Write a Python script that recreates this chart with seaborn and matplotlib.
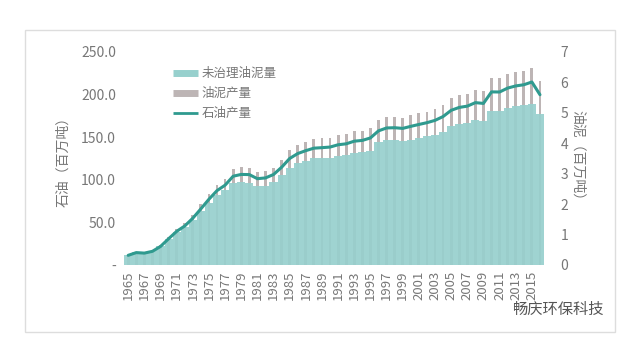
import numpy as np
import pandas as pd
import matplotlib
matplotlib.use('Agg')
import matplotlib.pyplot as plt
import seaborn as sns
from matplotlib.lines import Line2D
from matplotlib.patches import Rectangle

# data
years = list(range(1965, 2017))
oil = [11.3, 14.5, 13.9, 16.0, 21.7, 30.7, 39.4, 45.7, 54.8, 65.8,
       77.1, 87.2, 93.6, 104.1, 106.2, 106.0, 101.2, 102.1, 106.1, 114.6,
       124.9, 130.7, 134.1, 137.0, 137.6, 138.3, 141.0, 142.1, 145.2, 146.1,
       149.0, 157.3, 160.7, 161.0, 160.2, 162.6, 164.8, 166.9, 169.6, 174.1,
       181.4, 184.8, 186.3, 190.4, 189.5, 203.0, 202.9, 207.5, 210.0, 211.4,
       214.6, 199.7]
sludge = [0.34, 0.44, 0.42, 0.48, 0.66, 0.93, 1.19, 1.38, 1.65, 1.99,
          2.33, 2.63, 2.83, 3.14, 3.21, 3.20, 3.06, 3.08, 3.20, 3.46,
          3.77, 3.95, 4.05, 4.14, 4.16, 4.18, 4.26, 4.29, 4.39, 4.41,
          4.50, 4.75, 4.85, 4.86, 4.84, 4.91, 4.98, 5.04, 5.12, 5.26,
          5.48, 5.58, 5.63, 5.75, 5.72, 6.13, 6.13, 6.27, 6.34, 6.38,
          6.48, 6.03]
untreated = [0.32, 0.41, 0.39, 0.45, 0.61, 0.86, 1.08, 1.25, 1.48, 1.76,
             2.05, 2.30, 2.45, 2.68, 2.72, 2.70, 2.58, 2.60, 2.72, 2.95,
             3.20, 3.35, 3.42, 3.50, 3.50, 3.52, 3.58, 3.60, 3.68, 3.70,
             3.75, 4.05, 4.10, 4.10, 4.08, 4.12, 4.18, 4.22, 4.28, 4.38,
             4.55, 4.62, 4.65, 4.75, 4.72, 5.05, 5.05, 5.15, 5.22, 5.25,
             5.30, 4.95]
left_ticks = ['-', '50.0', '100.0', '150.0', '200.0', '250.0']

df = pd.DataFrame({'year': [str(y) for y in years], 'pos': np.arange(len(years)),
                   'oil': oil, 'sludge': sludge, 'untreated': untreated})

sns.set_style('white')
plt.rcParams['font.family'] = ['Noto Sans CJK SC', 'DejaVu Sans']

teal = '#97d0cd'
gray = '#bdb5b5'
line_c = '#2f9a8f'
txt = '#777777'

fig = plt.figure(figsize=(6.4, 3.6), dpi=100)
ax = fig.add_axes([0.194, 0.264, 0.656, 0.592])
ax2 = ax.twinx()

# bars on the right axis (sludge)
sns.barplot(data=df, x='year', y='sludge', color=gray, width=0.35,
            saturation=1, linewidth=0, ax=ax2, zorder=1)
sns.barplot(data=df, x='year', y='untreated', color=teal, width=1.0,
            saturation=1, alpha=0.92, linewidth=0, ax=ax2, zorder=2)
ax2.set_ylim(0, 7)
ax2.set_yticks(range(0, 8))
ax2.set_ylabel('油泥（百万吨）', color=txt, fontsize=10, rotation=270, labelpad=12)

# oil line on the left axis
sns.lineplot(data=df, x='pos', y='oil', color=line_c, linewidth=2.2, ax=ax)
ax.set_zorder(ax2.get_zorder() + 1)
ax.patch.set_visible(False)
ax.set_ylim(0, 250)
ax.set_yticks(range(0, 251, 50))
ax.set_yticklabels(left_ticks)
ax.set_ylabel('石油（百万吨）', color=txt, fontsize=10, labelpad=8)
ax.set_xlim(-0.5, len(years) - 0.5)
ax.set_xticks(np.arange(0, len(years), 2))
ax.set_xticklabels([str(y) for y in years[::2]], rotation=90)
ax.set_xlabel('')

for a in (ax, ax2):
    for s in a.spines.values():
        s.set_visible(False)
    a.tick_params(length=0, colors=txt, labelsize=10)
ax.tick_params(axis='x', labelsize=9.5, pad=4)
ax.tick_params(axis='y', pad=6)
ax2.tick_params(axis='y', pad=12)

handles = [Line2D([], [], color=teal, lw=5, solid_capstyle='butt'),
           Line2D([], [], color=gray, lw=5, solid_capstyle='butt'),
           Line2D([], [], color=line_c, lw=2, solid_capstyle='butt')]
leg = ax.legend(handles, ['未治理油泥量', '油泥产量', '石油产量'],
                loc='upper left', bbox_to_anchor=(0.09, 0.98), frameon=False,
                fontsize=9, handlelength=2.0, handletextpad=0.3, labelspacing=0.55)
for t in leg.get_texts():
    t.set_color(txt)

fig.patches.append(Rectangle((0.039, 0.078), 0.922, 0.839, transform=fig.transFigure,
                             fill=False, edgecolor='#dddddd', lw=1))
fig.text(0.80, 0.128, '畅庆环保科技', color='#555555', fontsize=11)

fig.savefig('out.png', dpi=100)
